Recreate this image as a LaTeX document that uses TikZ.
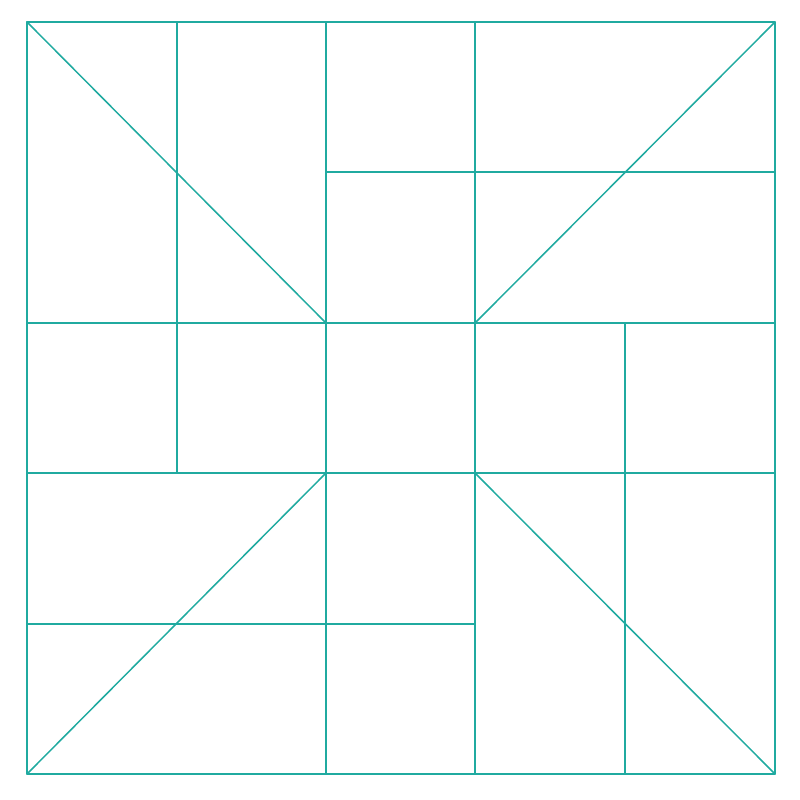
\documentclass[tikz,border=0pt]{standalone}
\usepackage{xcolor}
\definecolor{quilt}{RGB}{32,170,160}
\begin{document}
\begin{tikzpicture}[x=1pt,y=-1pt,seam/.style={draw=quilt,line width=1.5pt,line cap=round,line join=round}]
\useasboundingbox (0,0) rectangle (800,800);
% grid coordinates
\foreach \i/\x in {0/27,1/177,2/326,3/475,4/625,5/775}{
  \foreach \j/\y in {0/22,1/172,2/323,3/473,4/624,5/774}{
    \coordinate (p\i\j) at (\x,\y);
  }
}
% outer square
\draw[seam] (p00) rectangle (p55);
% verticals
\draw[seam] (p10) -- (p13);
\draw[seam] (p20) -- (p25);
\draw[seam] (p30) -- (p35);
\draw[seam] (p42) -- (p45);
% horizontals
\draw[seam] (p21) -- (p51);
\draw[seam] (p02) -- (p52);
\draw[seam] (p03) -- (p53);
\draw[seam] (p04) -- (p34);
% diagonals
\draw[seam] (p00) -- (p22);
\draw[seam] (p50) -- (p32);
\draw[seam] (p05) -- (p23);
\draw[seam] (p55) -- (p33);
\end{tikzpicture}
\end{document}
